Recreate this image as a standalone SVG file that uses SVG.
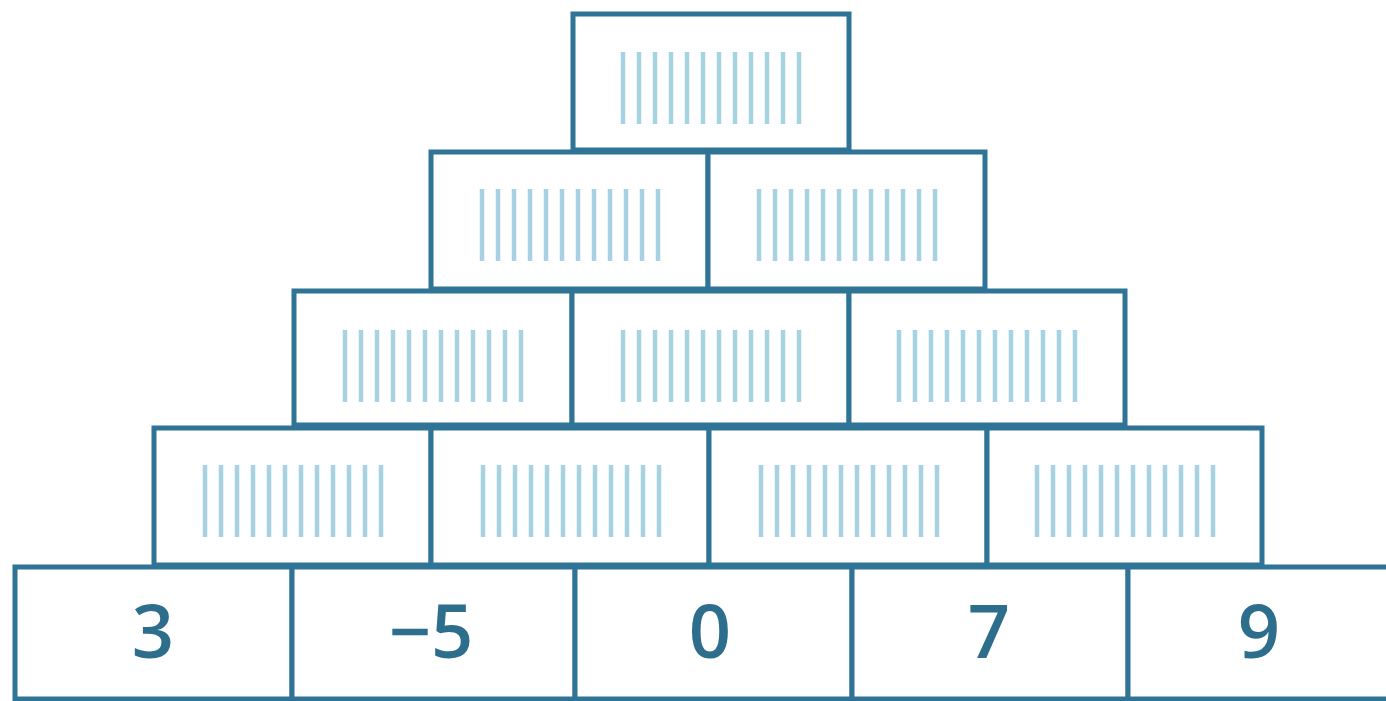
<svg xmlns="http://www.w3.org/2000/svg" xmlns:xlink="http://www.w3.org/1999/xlink" width="1386" height="701" viewBox="0 0 1386 701">
<style>
.box{fill:#ffffff;stroke:#2f7496;stroke-width:5}
.h{stroke:#a6d2e2;stroke-width:4.5}
.num{font-family:"Open Sans","Liberation Sans",sans-serif;font-weight:600;font-size:74px;fill:#2d6e8d;text-anchor:middle}
</style>
<defs>
<g id="hatch">
<line class="h" x1="2" y1="0" x2="2" y2="72"/>
<line class="h" x1="18" y1="0" x2="18" y2="72"/>
<line class="h" x1="34" y1="0" x2="34" y2="72"/>
<line class="h" x1="50" y1="0" x2="50" y2="72"/>
<line class="h" x1="66" y1="0" x2="66" y2="72"/>
<line class="h" x1="82" y1="0" x2="82" y2="72"/>
<line class="h" x1="98" y1="0" x2="98" y2="72"/>
<line class="h" x1="114" y1="0" x2="114" y2="72"/>
<line class="h" x1="130" y1="0" x2="130" y2="72"/>
<line class="h" x1="146" y1="0" x2="146" y2="72"/>
<line class="h" x1="162" y1="0" x2="162" y2="72"/>
<line class="h" x1="178" y1="0" x2="178" y2="72"/>
</g>
</defs>
<rect width="1386" height="701" fill="#ffffff"/>

<g id="r5c1"><rect class="box" x="15" y="567" width="277" height="132"/><text class="num" x="153" y="658">3</text></g>
<g id="r5c2"><rect class="box" x="292" y="567" width="283" height="132"/><text class="num" x="431" y="658">−5</text></g>
<g id="r5c3"><rect class="box" x="575" y="567" width="277" height="132"/><text class="num" x="710" y="658">0</text></g>
<g id="r5c4"><rect class="box" x="852" y="567" width="276" height="132"/><text class="num" x="989" y="658">7</text></g>
<g id="r5c5"><rect class="box" x="1128" y="567" width="272" height="132"/><text class="num" x="1259" y="658">9</text></g>

<g id="r4c1"><rect class="box" x="154" y="428" width="277" height="137"/><use xlink:href="#hatch" x="203" y="465"/></g>
<g id="r4c2"><rect class="box" x="431" y="428" width="278" height="137"/><use xlink:href="#hatch" x="481" y="465"/></g>
<g id="r4c3"><rect class="box" x="709" y="428" width="278" height="137"/><use xlink:href="#hatch" x="759" y="465"/></g>
<g id="r4c4"><rect class="box" x="987" y="428" width="275" height="137"/><use xlink:href="#hatch" x="1035" y="465"/></g>

<g id="r3c1"><rect class="box" x="294" y="291" width="278" height="134"/><use xlink:href="#hatch" x="343" y="330"/></g>
<g id="r3c2"><rect class="box" x="572" y="291" width="277" height="134"/><use xlink:href="#hatch" x="621" y="330"/></g>
<g id="r3c3"><rect class="box" x="849" y="291" width="276" height="134"/><use xlink:href="#hatch" x="897" y="330"/></g>

<g id="r2c1"><rect class="box" x="431" y="152" width="277" height="137"/><use xlink:href="#hatch" x="480" y="189"/></g>
<g id="r2c2"><rect class="box" x="708" y="152" width="277" height="137"/><use xlink:href="#hatch" x="757" y="189"/></g>

<g id="r1c1"><rect class="box" x="573" y="14" width="276" height="136"/><use xlink:href="#hatch" x="621" y="52"/></g>

<g id="connectors"></g>
</svg>
